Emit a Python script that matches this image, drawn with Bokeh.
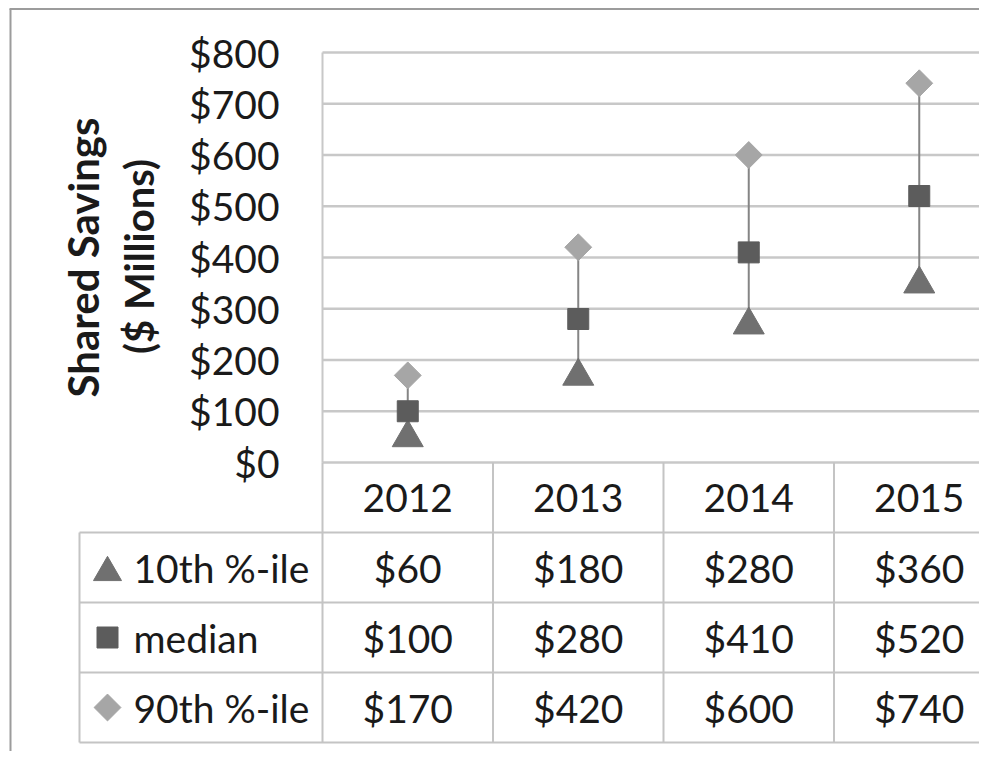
import math
from bokeh.plotting import figure
from bokeh.models import ColumnDataSource, Range1d
from bokeh.embed import file_html
from bokeh.resources import INLINE
from bokeh.core.properties import value

# ---------------- data ----------------
years = [2012, 2013, 2014, 2015]
year_labels = ["2012", "2013", "2014", "2015"]
p10 = [60, 180, 280, 360]
median = [100, 280, 410, 520]
p90 = [170, 420, 600, 740]
series_names = ["10th %-ile", "median", "90th %-ile"]
y_ticks = [0, 100, 200, 300, 400, 500, 600, 700, 800]
y_title_1 = "Shared Savings"
y_title_2 = "($ Millions)"

# ---------------- style / layout (pixels) ----------------
FONT = "Lato"
TXT = "#1a1a1a"
C_TRI = "#707070"
C_SQ = "#5c5c5c"
C_DIA = "#a6a6a6"
C_LINE = "#858585"
C_GRID = "#c8c8c8"
C_TABLE = "#c4c4c4"
C_FRAME = "#9c9c9c"
FS = "39px"

W, H = 979, 751
CAT_PX = 170.5          # width of one year column
PLOT_LEFT = 322         # x of plot-area left edge
Y0_PX, Y800_PX = 462, 52
ROW_PX = 70
LEG_LEFT_PX = 79
TRI_SHIFT = 6           # centre the triangle's bounding box on its value

pxu = (Y0_PX - Y800_PX) / 800.0
x_origin = years[0] - 0.5


def xd(px):  # pixel x -> data x
    return x_origin + (px - PLOT_LEFT) / CAT_PX


def yd(py):  # pixel y -> chart y
    return (Y0_PX - py) / pxu


def rd(py):  # pixel y -> table row coordinate
    return (py - Y0_PX) / ROW_PX


p = figure(width=W, height=H, output_backend="svg", toolbar_location=None,
           x_range=Range1d(xd(0), xd(W)),
           y_range=Range1d(yd(H), yd(0)),
           x_axis_location=None, y_axis_location=None,
           min_border=0, min_border_left=0, min_border_right=0,
           min_border_top=0, min_border_bottom=0)
p.extra_y_ranges = {
    "table": Range1d(rd(H), rd(0)),
    "tri": Range1d(yd(H - TRI_SHIFT), yd(-TRI_SHIFT)),
    "table_tri": Range1d(rd(H - TRI_SHIFT + 1), rd(-TRI_SHIFT + 1)),
}
p.outline_line_color = None
p.grid.visible = False
p.background_fill_color = "white"
p.border_fill_color = "white"

right_edge = years[-1] + 0.5
n_rows = 1 + len(series_names)
legend_left = xd(LEG_LEFT_PX)

# outer frame (top and left)
p.segment(x0=[xd(9), xd(10)], y0=[yd(8.5), yd(8.5)], x1=[xd(W), xd(10)],
          y1=[yd(8.5), yd(H)], line_color=C_FRAME, line_width=2)

# horizontal gridlines of the plot area
p.segment(x0=[x_origin] * len(y_ticks), y0=y_ticks, x1=[right_edge] * len(y_ticks),
          y1=y_ticks, line_color=C_GRID, line_width=2.5)
# plot-area left edge
p.segment(x0=[x_origin], y0=[0], x1=[x_origin], y1=[y_ticks[-1]],
          line_color=C_GRID, line_width=2)

# y tick labels
p.text(x=[xd(PLOT_LEFT - 43)] * len(y_ticks), y=y_ticks,
       text=["$%d" % t for t in y_ticks], text_font=value(FONT), text_font_size=FS,
       text_color=TXT, text_align="right", text_baseline="middle")

# y axis title (two lines, rotated)
p.text(x=[xd(82)], y=[yd(257)], text=[y_title_1], angle=math.pi / 2,
       text_font=value(FONT), text_font_size="42px", text_font_style="bold",
       text_color=TXT, text_align="center", text_baseline="alphabetic")
p.text(x=[xd(138)], y=[yd(256)], text=[y_title_2], angle=math.pi / 2,
       text_font=value(FONT), text_font_size="40px", text_font_style="bold",
       text_color=TXT, text_align="center", text_baseline="alphabetic")

# high-low lines and markers
src = ColumnDataSource(dict(year=years, p10=p10, med=median, p90=p90))
p.segment(x0="year", y0="p10", x1="year", y1="p90", source=src,
          line_color=C_LINE, line_width=2)
p.scatter("year", "p10", source=src, marker="triangle", size=31,
          fill_color=C_TRI, line_color=C_TRI, y_range_name="tri")
p.scatter("year", "med", source=src, marker="square", size=21,
          fill_color=C_SQ, line_color=C_SQ)
p.scatter("year", "p90", source=src, marker="square", angle=math.pi / 4, size=19,
          fill_color=C_DIA, line_color=C_DIA)

# ---------------- data table ----------------
hy = list(range(1, n_rows + 1))
p.segment(x0=[legend_left] * len(hy), y0=hy, x1=[right_edge] * len(hy), y1=hy,
          line_color=C_TABLE, line_width=2, y_range_name="table")
vx = [legend_left] + [yr - 0.5 for yr in years] + [right_edge]
vy0 = [1] + [0] * (len(years) + 1)
p.segment(x0=vx, y0=vy0, x1=vx, y1=[n_rows] * len(vx),
          line_color=C_TABLE, line_width=2, y_range_name="table")

# header
p.text(x=years, y=[0.5] * len(years), text=year_labels, y_range_name="table",
       text_font=value(FONT), text_font_size=FS, text_color=TXT,
       text_align="center", text_baseline="middle")

# values
vals = [p10, median, p90]
cx, cy, ct = [], [], []
for r, row in enumerate(vals):
    for yr, v in zip(years, row):
        cx.append(yr)
        cy.append(r + 1.5)
        ct.append("$%d" % v)
p.text(x=cx, y=cy, text=ct, y_range_name="table", text_font=value(FONT),
       text_font_size=FS, text_color=TXT, text_align="center", text_baseline="middle")

# legend keys
row_c = [r + 1.5 for r in range(len(series_names))]
p.scatter(x=[xd(107)], y=[row_c[0]], marker="triangle", size=28,
          fill_color=C_TRI, line_color=C_TRI, y_range_name="table_tri")
p.scatter(x=[xd(107)], y=[row_c[1]], marker="square", size=21,
          fill_color=C_SQ, line_color=C_SQ, y_range_name="table")
p.scatter(x=[xd(107)], y=[row_c[2]], marker="square", angle=math.pi / 4, size=19,
          fill_color=C_DIA, line_color=C_DIA, y_range_name="table")
p.text(x=[xd(133)] * 3, y=row_c, text=series_names, y_range_name="table",
       text_font=value(FONT), text_font_size=FS, text_color=TXT,
       text_align="left", text_baseline="middle")

open("out.html", "w").write(file_html(p, INLINE))
